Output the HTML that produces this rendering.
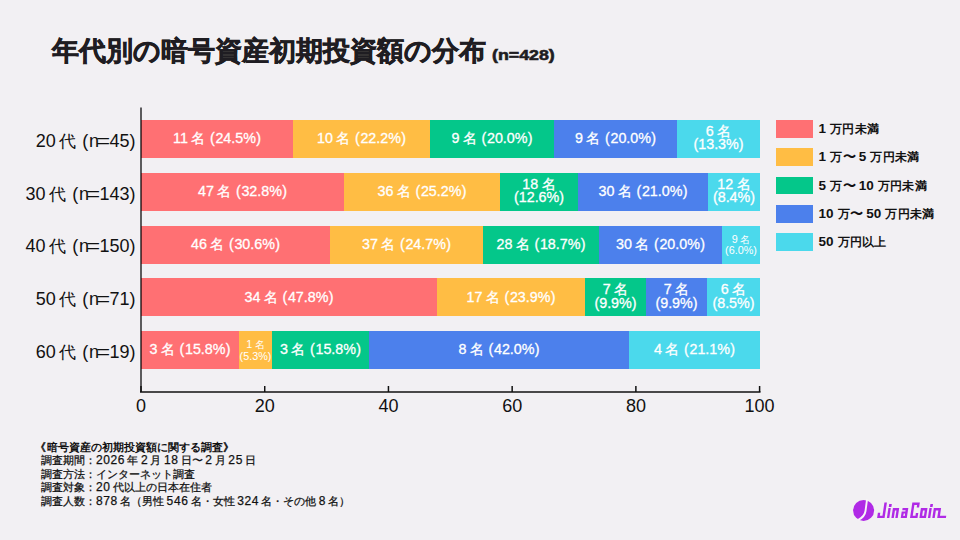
<!DOCTYPE html>
<html lang="ja">
<head>
<meta charset="utf-8">
<style>
*{margin:0;padding:0;box-sizing:border-box}
html,body{width:960px;height:540px;overflow:hidden}
body{background:#f2f0f3;font-family:"Liberation Sans",sans-serif;color:#1f1d22;position:relative}
i{font-style:normal}
#title{position:absolute;left:51.8px;top:29px;font-size:27px;font-weight:bold;line-height:44px;color:#1f1d22;white-space:nowrap;-webkit-text-stroke:0.6px #1f1d22}
#title .n{display:inline-block;font-size:14px;margin-left:6.5px;transform:scaleX(1.27);transform-origin:0 50%;-webkit-text-stroke:0.55px #1f1d22}
.bar{position:absolute;left:141px;width:618.6px;height:38px}
.seg{position:absolute;top:0;height:100%;display:flex;align-items:center;justify-content:center;color:#fff;white-space:nowrap;-webkit-text-stroke:0.3px #fff}
.r{background:#ff7073}.y{background:#ffbd44}.g{background:#04c78a}.b{background:#4c80ec}.c{background:#4bd9ec}
.L{font-size:14.3px;line-height:16px;position:relative;top:-0.8px}
.L i{font-size:13px}
.L .m{margin-left:3.5px;font-size:14px}
.L .pl{margin-left:4.6px;margin-right:0.7px}
.L .pr{margin-left:0.3px}
.L2{display:flex;flex-direction:column;align-items:center;font-size:14.3px;line-height:13.6px;margin-top:-1px}
.L2 i{font-size:13px}
.L2 .m{margin-left:3.5px;font-size:14px}
.L2.s{font-size:10.8px;line-height:10.5px;-webkit-text-stroke:0;margin-top:0}
.L2.s i{font-size:10.3px}
.L2.s .m{margin-left:2.5px;font-size:10.3px}
.ylab{position:absolute;right:824.5px;font-size:18px;line-height:20px;margin-top:-8.2px;text-align:right;white-space:nowrap;color:#111}
.ylab i{font-size:16.5px}
.ylab .dai{margin-left:3px}
.ylab .eq{display:inline-block;transform:scaleX(1.32);transform-origin:85% 50%}
.ylab .pl{margin-left:6.6px;margin-right:0.7px}
.ax{position:absolute;left:0;top:0}
.xl{position:absolute;top:395.8px;font-size:18px;line-height:20px;color:#111;transform:translateX(-50%)}
.lg{position:absolute;left:775.6px;width:37.4px;height:17.6px}
.lt{position:absolute;left:818.5px;font-size:13.5px;line-height:17.5px;font-weight:bold;color:#111;white-space:nowrap}
.lt i{font-size:12px;letter-spacing:0.3px}
.lt .sp{margin-left:4px}
.lt .w{font-size:13px;margin-left:0.5px;margin-right:3px;letter-spacing:0}
#note{position:absolute;left:41px;top:440.5px;font-size:11px;line-height:13.65px;color:#111;-webkit-text-stroke:0.25px #111;white-space:nowrap}
#note b{font-weight:normal;font-size:12px;letter-spacing:0.6px;margin:0 2.2px 0 2.6px}
#note b.k0{margin-left:0}
#note .h{font-weight:bold;-webkit-text-stroke:0}
#note .lq{margin-left:-5.6px;margin-right:1px}
#note .w2{font-size:11px}

</style>
</head>
<body>
<div id="title">年代別の暗号資産初期投資額の分布<span class="n">(n=428)</span></div>
<div class="ylab" style="top:138.8px"><span class="d">20</span><i class="dai">代</i><span class="pl">(</span>n<span class="eq">=</span><span class="d">45</span>)</div>
<div class="ylab" style="top:191.7px"><span class="d">30</span><i class="dai">代</i><span class="pl">(</span>n<span class="eq">=</span><span class="d">143</span>)</div>
<div class="ylab" style="top:244.5px"><span class="d">40</span><i class="dai">代</i><span class="pl">(</span>n<span class="eq">=</span><span class="d">150</span>)</div>
<div class="ylab" style="top:297.4px"><span class="d">50</span><i class="dai">代</i><span class="pl">(</span>n<span class="eq">=</span><span class="d">71</span>)</div>
<div class="ylab" style="top:350.2px"><span class="d">60</span><i class="dai">代</i><span class="pl">(</span>n<span class="eq">=</span><span class="d">19</span>)</div>
<div class="bar" style="top:119.8px">
  <div class="seg r" style="left:0.0px;width:152.0px"><span class="L">11<i class="m">名</i><span class="pl">(</span>24.5%<span class="pr">)</span></span></div>
  <div class="seg y" style="left:152.0px;width:137.0px"><span class="L">10<i class="m">名</i><span class="pl">(</span>22.2%<span class="pr">)</span></span></div>
  <div class="seg g" style="left:289.0px;width:124.0px"><span class="L">9<i class="m">名</i><span class="pl">(</span>20.0%<span class="pr">)</span></span></div>
  <div class="seg b" style="left:413.0px;width:123.0px"><span class="L">9<i class="m">名</i><span class="pl">(</span>20.0%<span class="pr">)</span></span></div>
  <div class="seg c" style="left:536.0px;width:83.0px"><span class="L2 t"><span class="la">6<i class="m">名</i></span><span class="lb">(13.3%)</span></span></div>
</div>
<div class="bar" style="top:172.7px">
  <div class="seg r" style="left:0.0px;width:203.0px"><span class="L">47<i class="m">名</i><span class="pl">(</span>32.8%<span class="pr">)</span></span></div>
  <div class="seg y" style="left:203.0px;width:156.0px"><span class="L">36<i class="m">名</i><span class="pl">(</span>25.2%<span class="pr">)</span></span></div>
  <div class="seg g" style="left:359.0px;width:78.0px"><span class="L2 t"><span class="la">18<i class="m">名</i></span><span class="lb">(12.6%)</span></span></div>
  <div class="seg b" style="left:437.0px;width:130.0px"><span class="L">30<i class="m">名</i><span class="pl">(</span>21.0%<span class="pr">)</span></span></div>
  <div class="seg c" style="left:567.0px;width:52.0px"><span class="L2 t"><span class="la">12<i class="m">名</i></span><span class="lb">(8.4%)</span></span></div>
</div>
<div class="bar" style="top:225.5px">
  <div class="seg r" style="left:0.0px;width:189.0px"><span class="L">46<i class="m">名</i><span class="pl">(</span>30.6%<span class="pr">)</span></span></div>
  <div class="seg y" style="left:189.0px;width:153.0px"><span class="L">37<i class="m">名</i><span class="pl">(</span>24.7%<span class="pr">)</span></span></div>
  <div class="seg g" style="left:342.0px;width:116.0px"><span class="L">28<i class="m">名</i><span class="pl">(</span>18.7%<span class="pr">)</span></span></div>
  <div class="seg b" style="left:458.0px;width:123.0px"><span class="L">30<i class="m">名</i><span class="pl">(</span>20.0%<span class="pr">)</span></span></div>
  <div class="seg c" style="left:581.0px;width:38.0px"><span class="L2 s"><span class="la">9<i class="m">名</i></span><span class="lb">(6.0%)</span></span></div>
</div>
<div class="bar" style="top:278.4px">
  <div class="seg r" style="left:0.0px;width:296.0px"><span class="L">34<i class="m">名</i><span class="pl">(</span>47.8%<span class="pr">)</span></span></div>
  <div class="seg y" style="left:296.0px;width:148.0px"><span class="L">17<i class="m">名</i><span class="pl">(</span>23.9%<span class="pr">)</span></span></div>
  <div class="seg g" style="left:444.0px;width:61.0px"><span class="L2 t"><span class="la">7<i class="m">名</i></span><span class="lb">(9.9%)</span></span></div>
  <div class="seg b" style="left:505.0px;width:61.0px"><span class="L2 t"><span class="la">7<i class="m">名</i></span><span class="lb">(9.9%)</span></span></div>
  <div class="seg c" style="left:566.0px;width:53.0px"><span class="L2 t"><span class="la">6<i class="m">名</i></span><span class="lb">(8.5%)</span></span></div>
</div>
<div class="bar" style="top:331.2px">
  <div class="seg r" style="left:0.0px;width:98.0px"><span class="L">3<i class="m">名</i><span class="pl">(</span>15.8%<span class="pr">)</span></span></div>
  <div class="seg y" style="left:98.0px;width:33.0px"><span class="L2 s"><span class="la">1<i class="m">名</i></span><span class="lb">(5.3%)</span></span></div>
  <div class="seg g" style="left:131.0px;width:97.0px"><span class="L">3<i class="m">名</i><span class="pl">(</span>15.8%<span class="pr">)</span></span></div>
  <div class="seg b" style="left:228.0px;width:260.0px"><span class="L">8<i class="m">名</i><span class="pl">(</span>42.0%<span class="pr">)</span></span></div>
  <div class="seg c" style="left:488.0px;width:131.0px"><span class="L">4<i class="m">名</i><span class="pl">(</span>21.1%<span class="pr">)</span></span></div>
</div>
<svg class="ax" width="960" height="540" viewBox="0 0 960 540">
<line x1="141" y1="107.6" x2="141" y2="392" stroke="#000" stroke-opacity="0.62" stroke-width="2"/>
<line x1="140" y1="392" x2="760.5" y2="392" stroke="#111" stroke-width="1.5"/>
<line x1="141.00" y1="386" x2="141.00" y2="392" stroke="#111" stroke-width="1.5"/>
<line x1="264.72" y1="386" x2="264.72" y2="392" stroke="#111" stroke-width="1.5"/>
<line x1="388.44" y1="386" x2="388.44" y2="392" stroke="#111" stroke-width="1.5"/>
<line x1="512.16" y1="386" x2="512.16" y2="392" stroke="#111" stroke-width="1.5"/>
<line x1="635.88" y1="386" x2="635.88" y2="392" stroke="#111" stroke-width="1.5"/>
<line x1="759.60" y1="386" x2="759.60" y2="392" stroke="#111" stroke-width="1.5"/>
</svg>
<div class="xl" style="left:141.0px">0</div>
<div class="xl" style="left:264.7px">20</div>
<div class="xl" style="left:388.4px">40</div>
<div class="xl" style="left:512.2px">60</div>
<div class="xl" style="left:635.9px">80</div>
<div class="xl" style="left:759.6px">100</div>
<div class="lg r" style="top:120.1px"></div>
<div class="lt" style="top:120.1px"><span class="d">1</span><i class="sp">万円未満</i></div>
<div class="lg y" style="top:148.4px"></div>
<div class="lt" style="top:148.4px"><span class="d">1</span><i class="sp">万</i><i class="w">〜</i><span class="d">5</span><i class="sp">万円未満</i></div>
<div class="lg g" style="top:176.7px"></div>
<div class="lt" style="top:176.7px"><span class="d">5</span><i class="sp">万</i><i class="w">〜</i><span class="d">10</span><i class="sp">万円未満</i></div>
<div class="lg b" style="top:205.0px"></div>
<div class="lt" style="top:205.0px"><span class="d">10</span><i class="sp">万</i><i class="w">〜</i><span class="d">50</span><i class="sp">万円未満</i></div>
<div class="lg c" style="top:233.3px"></div>
<div class="lt" style="top:233.3px"><span class="d">50</span><i class="sp">万円以上</i></div>
<div id="note">
<div class="h"><i class="lq">《</i>暗号資産の初期投資額に関する調査》</div>
<div>調査期間：<b class="k0">2026</b>年<b>2</b>月<b>18</b>日<i class="w2">〜</i><b>2</b>月<b>25</b>日</div>
<div>調査方法：インターネット調査</div>
<div>調査対象：<b class="k0">20</b>代以上の日本在住者</div>
<div>調査人数：<b class="k0">878</b>名（男性<b>546</b>名・女性<b>324</b>名・その他<b>8</b>名）</div>
</div>
<svg style="position:absolute;left:0;top:0" width="960" height="540" viewBox="0 0 960 540">
<circle cx="863.6" cy="510.4" r="10.5" fill="#b02ae6"/>
<path d="M867.1 499 L865.5 511 Q864.7 516.8 858.3 519.9" fill="none" stroke="#f7f3f7" stroke-width="1.9"/>
<g fill="#b02ae6" transform="translate(0 518.1) skewX(-8.5)">
<path d="M882.1 -15.6h2.5V0h-7.5v-5.3h2.4v2.9h2.6z"/>
<rect x="886.9" y="-10.1" width="2.4" height="10.1"/>
<rect x="887.1" y="-14.1" width="2.6" height="2.9"/>
<path d="M891.4 -10.1h6.3V0h-2.4v-7.7h-1.5V0h-2.4z"/>
<path fill-rule="evenodd" d="M901.1 -10.1h5.7V0h-6.1v-6.7h3.7v-1.1h-3.3zM903 -4.5v2.3h1.4v-2.3z"/>
<path d="M910 -15.6h7.5v5.1h-2.4v-2.7h-2.7V-2.4h2.7v-2.7h2.4V0H910z"/>
<path fill-rule="evenodd" d="M919.4 -10.1h6.6V0h-6.6zM921.8 -7.7v5.3h1.8v-5.3z"/>
<rect x="927.9" y="-10.1" width="2.4" height="10.1"/>
<rect x="928.3" y="-14.1" width="2.6" height="2.9"/>
<path d="M932.3 -10.1h7.3V-2.4h6.3V0h-8.7v-7.7h-2.5V0h-2.4z"/>
</g>
</svg>
</body>
</html>
